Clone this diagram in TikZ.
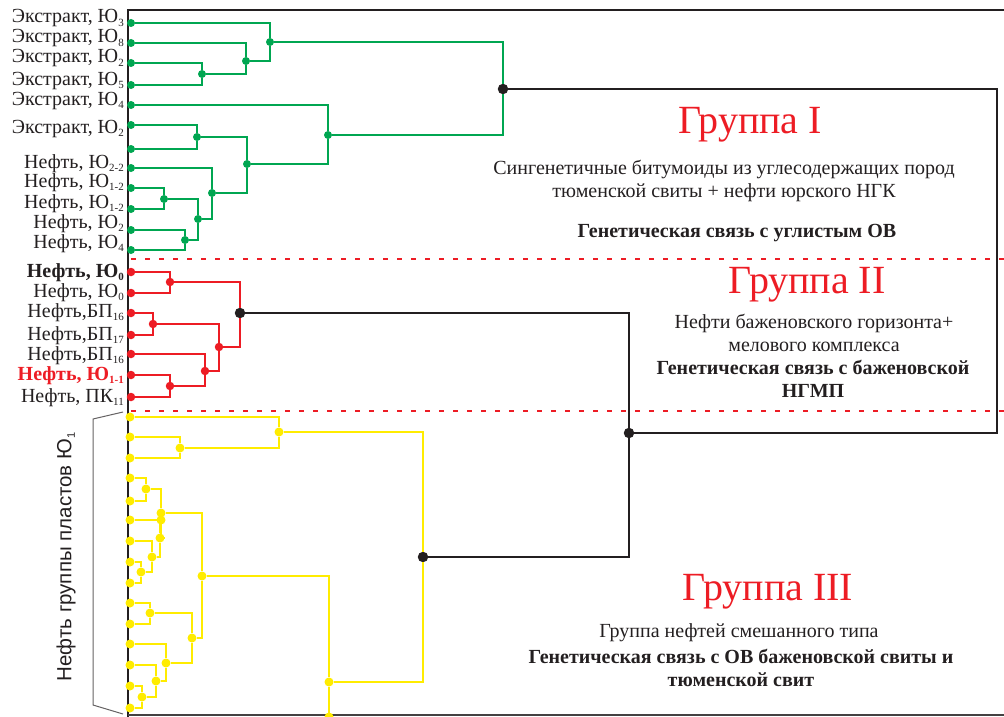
\documentclass[tikz,border=0pt]{standalone}
\usepackage{fontspec}
\setmainfont{Liberation Serif}
\newfontfamily\sansfont{Liberation Sans}
\definecolor{grpI}{HTML}{00A651}
\definecolor{grpII}{HTML}{ED1C24}
\definecolor{grpIII}{HTML}{FFEC00}
\definecolor{ink}{HTML}{231F20}
\newcommand{\lsub}[1]{\raisebox{-3.5pt}{\fontsize{11}{11}\selectfont #1}}
\tikzset{
  gdot/.style={circle,fill=grpI,inner sep=0,minimum size=8pt},
  rdot/.style={circle,fill=grpII,inner sep=0,minimum size=8.5pt},
  ydot/.style={circle,fill=grpIII,inner sep=0,minimum size=9pt},
  bdot/.style={circle,fill=ink,inner sep=0,minimum size=10.5pt},
  gline/.style={grpI,line width=1.2pt},
  rline/.style={grpII,line width=1.2pt},
  yline/.style={grpIII,line width=1.3pt},
  bline/.style={ink,line width=2.5pt},
  leaflbl/.style={anchor=base east,inner sep=0,text=ink,font=\fontsize{20}{22}\selectfont},
  grptitle/.style={text=grpII,inner sep=0,font=\fontsize{40}{44}\selectfont},
  grptext/.style={text=ink,inner sep=0,align=center,font=\fontsize{20}{22.5}\selectfont},
  grpbold/.style={text=ink,inner sep=0,align=center,font=\bfseries\fontsize{20}{22.5}\selectfont}
}
\begin{document}
\begin{tikzpicture}[x=1pt,y=-1pt]
\useasboundingbox (0,0) rectangle (1004,717);
\clip (0,0) rectangle (1004,717);
% frame and axis
\draw[ink,line width=2.5pt] (1004,10) -- (128,10) -- (128,717);
\draw[ink!85,line width=2pt] (128,715) -- (1004,715);
\draw[grpII,line width=2.5pt,dash pattern=on 5pt off 9pt] (131,259) -- (1004,259);
\draw[grpII,line width=2.5pt,dash pattern=on 5pt off 9pt] (131,411) -- (1004,411);
% group I leaves
\foreach \y [count=\i] in {23,43,63,85,105,125,149,168,188,209,230,250}
  \node[gdot] (g\i) at (131,\y) {};
\foreach \n/\x/\y in {ga/202/74,gb/246/61,gc/270/42,gd/197/137,ge/164/199,gf/185/240,
  gg/198/219,gh/212/193,gi/247/164,gj/328/135}
  \node[gdot] (\n) at (\x,\y) {};
% group II leaves
\foreach \y [count=\i] in {272,293,313,335,354,375,397}
  \node[rdot] (r\i) at (131,\y) {};
\foreach \n/\x/\y in {ra/170/282,rb/153/324,rc/170/386,rd/205/371,re/219/347}
  \node[rdot] (\n) at (\x,\y) {};
% group III leaves
\foreach \y [count=\i] in {417,437,458,478,501,520,541,562,583,603,624,644,665,686,708}
  \node[ydot] (y\i) at (130,\y) {};
\foreach \n/\x/\y in {ya/180/448,yb/279/432,yc/146/489,yd/141/572,ye/152/557,yf/160/538,
  yg/161/513,yx/161/520,yh/142/697,yi/156/681,yj/166/663,yk/150/613,yl/192/638,ym/202/576,yn/329/682}
  \node[ydot] (\n) at (\x,\y) {};
\node[ydot] (y16) at (329,717) {};
% cluster roots
\node[bdot] (bI) at (503,89) {};
\node[bdot] (bII) at (240,313) {};
\node[bdot] (bIII) at (423,557) {};
\node[bdot] (bJ) at (629,433) {};
% dendrogram links
\foreach \a/\b in {g1/gc,g2/gb,g3/ga,g4/ga,ga/gb,gb/gc,gc/bI,g5/gj,g6/gd,g7/gd,gd/gi,g8/gh,
  g9/ge,g10/ge,ge/gg,g11/gf,g12/gf,gf/gg,gg/gh,gh/gi,gi/gj,gj/bI}
  \draw[gline] (\a) -| (\b);
\foreach \a/\b in {r1/ra,r2/ra,r3/rb,r4/rb,r5/rd,r6/rc,r7/rc,rc/rd,rb/re,rd/re,ra/bII,re/bII}
  \draw[rline] (\a) -| (\b);
\foreach \a/\b in {y1/yb,y2/ya,y3/ya,ya/yb,y4/yc,y5/yc,y6/yf,y7/ye,y8/yd,y9/yd,yd/ye,ye/yf,
  yc/yg,yf/yg,y10/yk,y11/yk,y12/yj,y13/yi,y14/yh,y15/yh,yh/yi,yi/yj,yk/yl,yj/yl,yg/ym,yl/ym,
  ym/yn,y16/yn,yb/bIII,yn/bIII}
  \draw[yline] (\a) -| (\b);
% links between groups
\draw[bline] (bI) -- (997,89) |- (bJ);
\draw[bline] (bII) -| (bJ) |- (bIII);
% leaf labels
\foreach \y/\t [count=\i] in {23/{Экстракт, Ю\lsub{3}},43/{Экстракт, Ю\lsub{8}},
  63/{Экстракт, Ю\lsub{2}},85/{Экстракт, Ю\lsub{5}},105/{Экстракт, Ю\lsub{4}},
  133/{Экстракт, Ю\lsub{2}},168/{Нефть, Ю\lsub{2-2}},187/{Нефть, Ю\lsub{1-2}},
  208/{Нефть, Ю\lsub{1-2}},228/{Нефть, Ю\lsub{2}},248/{Нефть, Ю\lsub{4}}}
  \node[leaflbl] (lg\i) at (124,\y) {\t};
\foreach \y/\t [count=\i] in {297/{Нефть, Ю\lsub{0}},317/{Нефть,БП\lsub{16}},
  340/{Нефть,БП\lsub{17}},360/{Нефть,БП\lsub{16}},402/{Нефть, ПК\lsub{11}}}
  \node[leaflbl] (lr\i) at (124,\y) {\t};
\node[leaflbl,font=\bfseries\fontsize{20}{22}\selectfont] (lr0) at (124,277) {Нефть, Ю\lsub{0}};
\node[leaflbl,text=grpII,font=\bfseries\fontsize{20}{22}\selectfont] (lr6) at (124,380) {Нефть, Ю\lsub{1-1}};
% group III bracket
\draw[ink!70,line width=1pt] (123,412) -- (93,419) -- (93,705) -- (123,714);
\node[rotate=90,inner sep=0,text=ink,font=\sansfont\fontsize{20.5}{24}\selectfont] (ly) at (66,557)
  {Нефть группы пластов Ю\lsub{1}};
% group descriptions
\node[grptitle] (tI) at (750,125) {Группа I};
\node[grptext] (dI) at (724,181) {Сингенетичные битумоиды из углесодержащих пород\\тюменской свиты + нефти юрского НГК};
\node[grpbold] (sI) at (737,233) {Генетическая связь с углистым ОВ};
\node[grptitle] (tII) at (807,285) {Группа II};
\node[grptext] (dII) at (814,333) {Нефти баженовского горизонта+\\мелового комплекса};
\node[grpbold] (sII) at (813,379) {Генетическая связь с баженовской\\НГМП};
\node[grptitle] (tIII) at (768,592) {Группа III};
\node[grptext] (dIII) at (739,633) {Группа нефтей смешанного типа};
\node[grpbold] (sIII) at (741,668) {Генетическая связь с ОВ баженовской свиты и\\тюменской свит};
\end{tikzpicture}
\end{document}
